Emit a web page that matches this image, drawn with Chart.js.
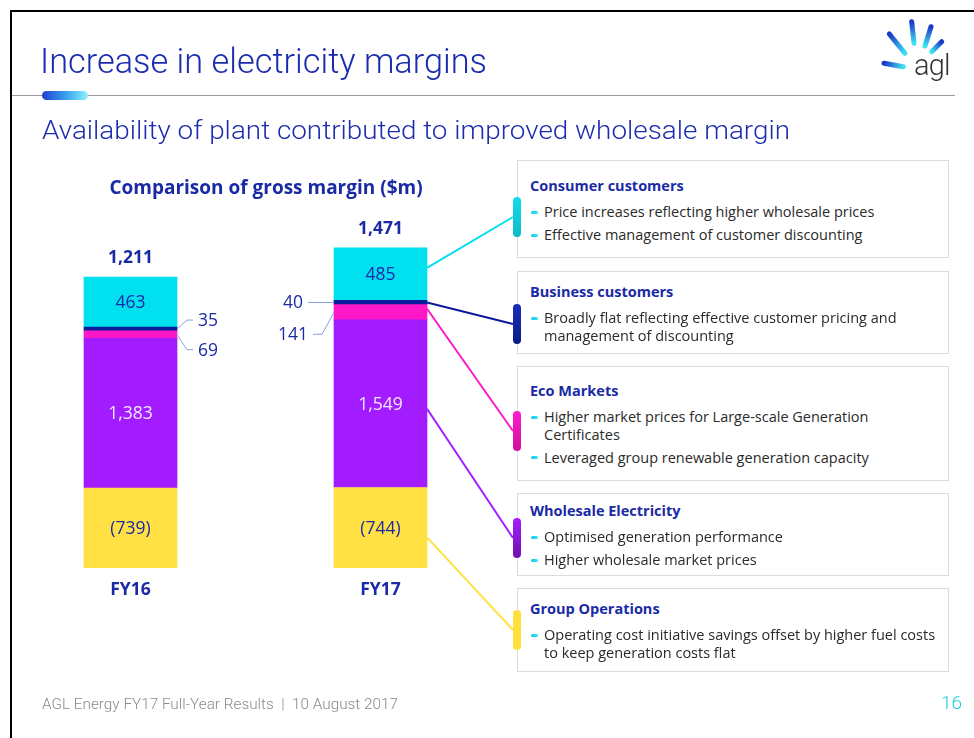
<!DOCTYPE html>
<html>
<head>
<meta charset="utf-8">
<script src="https://cdn.jsdelivr.net/npm/chart.js@4/dist/chart.umd.min.js"></script>
<style>
  html, body { margin: 0; padding: 0; background: #fff; }
  #slide { position: relative; width: 974px; height: 738px; overflow: hidden; background: #fff; font-family: "Open Sans", sans-serif; }
  #frame { position: absolute; left: 10px; top: 10px; width: 1000px; height: 800px; border-top: 2.5px solid #000; border-left: 2.5px solid #000; box-sizing: border-box; }
  #chartWrap { position: absolute; left: 0; top: 0; width: 974px; height: 738px; }
  .fit { position: absolute; white-space: nowrap; transform-origin: 0 0; }
  #title { left: 40px; top: 42px; font-family: Roboto, sans-serif; font-weight: 300; font-size: 35px; line-height: 40px; color: #1b2cae; }
  #subtitle { left: 42px; top: 116px; font-family: Roboto, sans-serif; font-weight: 300; font-size: 25px; line-height: 30px; color: #1b2cae; }
  #rule { position: absolute; left: 12px; top: 95px; width: 943px; height: 1px; background: #9a9a9a; }
  #pill { position: absolute; left: 42px; top: 91px; width: 46px; height: 9px; border-radius: 5px; background: linear-gradient(90deg, #1f3fd0, #3aa8ee 55%, #8ef2ff); }
  #ctitle { position: absolute; left: 0; width: 532px; top: 174px; text-align: center; font-weight: 700; font-size: 19px; line-height: 26px; color: #1a2aa6; }
  .box { position: absolute; left: 517px; width: 432px; border: 1px solid #dcdcdc; box-sizing: border-box; background: #fff; padding-left: 12px; padding-right: 6px; }
  .box h4 { margin: 0; font-size: 14.5px; line-height: 18px; font-weight: 700; color: #1a2aa6; }
  .box ul { list-style: none; margin: 8px 0 0 0; padding: 0; }
  .box li { position: relative; padding-left: 14px; font-size: 14.5px; line-height: 17.5px; color: #2a2a2a; margin-bottom: 5.5px; white-space: nowrap; }
  .box li::before { content: ""; position: absolute; left: 1px; top: 7.5px; width: 7px; height: 3px; border-radius: 1.5px; background: linear-gradient(90deg, #19c2ef, #35e6f6); }
  .tab { position: absolute; left: 513px; width: 8px; height: 40px; border-radius: 4px; }
  #footer { left: 42px; top: 695px; font-family: Roboto, sans-serif; font-weight: 300; font-size: 14px; line-height: 18px; color: #8a8a8a; }
  #pageno { position: absolute; left: 941px; top: 692px; font-family: Roboto, sans-serif; font-weight: 300; font-size: 19px; line-height: 22px; color: #1ccfe6; }
  #logo { position: absolute; left: 876px; top: 16px; width: 90px; height: 76px; }
</style>
</head>
<body>
<div id="slide">
  <div id="chartWrap"><canvas id="c" width="974" height="738"></canvas></div>
  <div id="frame"></div>
  <div id="title" class="fit" data-w="447">Increase in electricity margins</div>
  <div id="rule"></div>
  <div id="pill"></div>
  <div id="subtitle" class="fit" data-w="748">Availability of plant contributed to improved wholesale margin</div>
  <div id="ctitle">Comparison of gross margin ($m)</div>

  <div class="box" style="top:160px;height:98px;padding-top:16px;">
    <h4>Consumer customers</h4>
    <ul><li>Price increases reflecting higher wholesale prices</li><li>Effective management of customer discounting</li></ul>
  </div>
  <div class="box" style="top:271px;height:83px;padding-top:11px;">
    <h4>Business customers</h4>
    <ul><li>Broadly flat reflecting effective customer pricing and<br>management of discounting</li></ul>
  </div>
  <div class="box" style="top:366px;height:115px;padding-top:15px;">
    <h4>Eco Markets</h4>
    <ul><li>Higher market prices for Large-scale Generation<br>Certificates</li><li>Leveraged group renewable generation capacity</li></ul>
  </div>
  <div class="box" style="top:493px;height:83px;padding-top:8px;">
    <h4>Wholesale Electricity</h4>
    <ul><li>Optimised generation performance</li><li>Higher wholesale market prices</li></ul>
  </div>
  <div class="box" style="top:588px;height:84px;padding-top:11px;">
    <h4>Group Operations</h4>
    <ul><li>Operating cost initiative savings offset by higher fuel costs<br>to keep generation costs flat</li></ul>
  </div>

  <div class="tab" style="top:197px;background:linear-gradient(180deg,#10dcea,#0fb9c9);"></div>
  <div class="tab" style="top:304px;background:linear-gradient(180deg,#1a2fb8,#0b1a86);"></div>
  <div class="tab" style="top:411px;background:linear-gradient(180deg,#ff1ccc,#cf0f9c);"></div>
  <div class="tab" style="top:518px;background:linear-gradient(180deg,#a51cff,#6e10ae);"></div>
  <div class="tab" style="top:610px;background:#ffe13e;"></div>

  <div id="footer" class="fit" data-w="356">AGL Energy FY17 Full-Year Results&nbsp;&nbsp;|&nbsp;&nbsp;10 August 2017</div>
  <div id="pageno">16</div>

  <svg id="logo" viewBox="0 0 90 76" xmlns="http://www.w3.org/2000/svg">
    <defs>
      <linearGradient id="r1" x1="13.3" y1="18" x2="29" y2="37.3" gradientUnits="userSpaceOnUse"><stop offset="0" stop-color="#1a35c8"/><stop offset="1" stop-color="#3fe3f3"/></linearGradient>
      <linearGradient id="r2" x1="35.7" y1="5.7" x2="38" y2="27.3" gradientUnits="userSpaceOnUse"><stop offset="0" stop-color="#1a35c8"/><stop offset="1" stop-color="#3fe3f3"/></linearGradient>
      <linearGradient id="r3" x1="55" y1="10.7" x2="49" y2="30" gradientUnits="userSpaceOnUse"><stop offset="0" stop-color="#1a35c8"/><stop offset="1" stop-color="#3fe3f3"/></linearGradient>
      <linearGradient id="r4" x1="65.7" y1="25.7" x2="55.7" y2="35.7" gradientUnits="userSpaceOnUse"><stop offset="0" stop-color="#1a35c8"/><stop offset="1" stop-color="#3fe3f3"/></linearGradient>
      <linearGradient id="r5" x1="8" y1="47.3" x2="27.3" y2="50.7" gradientUnits="userSpaceOnUse"><stop offset="0" stop-color="#1a35c8"/><stop offset="1" stop-color="#3fe3f3"/></linearGradient>
    </defs>
    <g stroke-width="5" stroke-linecap="round" fill="none">
      <line x1="13.3" y1="18" x2="29" y2="37.3" stroke="url(#r1)"/>
      <line x1="35.7" y1="5.7" x2="38" y2="27.3" stroke="url(#r2)"/>
      <line x1="55" y1="10.7" x2="49" y2="30" stroke="url(#r3)"/>
      <line x1="65.7" y1="25.7" x2="55.7" y2="35.7" stroke="url(#r4)"/>
      <line x1="8" y1="47.3" x2="27.3" y2="50.7" stroke="url(#r5)"/>
    </g>
    <text x="38" y="59" font-family="Roboto, sans-serif" font-weight="300" font-size="29" fill="#333" letter-spacing="-0.8">agl</text>
  </svg>
</div>

<script>
// ---------- DATA ----------
const categories = ["FY16", "FY17"];
const groupOperations = [-739, -744];
const wholesaleElectricity = [1383, 1549];
const ecoMarkets = [69, 141];
const businessCustomers = [35, 40];
const consumerCustomers = [463, 485];
const seriesNames = ["Group Operations", "Wholesale Electricity", "Eco Markets", "Business customers", "Consumer customers"];

// ---------- STYLE / LAYOUT ----------
const seriesColors = ["#ffe143", "#a21cff", "#ff17c8", "#0b1d9c", "#00e0ef"];
const insideLabelColors = ["#1a2aa6", "#f3e8ff", null, null, "#1a2aa6"];
const TEXT_BLUE = "#1a2aa6";
const CALLOUT_LINE = "#8d9eea";
// callouts for thin segments: [datasetIndex][barIndex]
const callouts = {
  2: { 0: { side: "right", dy: 15, elbow: 10, reach: 16 }, 1: { side: "left", dy: 22, elbow: 12, reach: 21 } },
  3: { 0: { side: "right", dy: -9, elbow: 10, reach: 16 }, 1: { side: "left", dy: 0, elbow: 12, reach: 26 } }
};
// leader line targets (left edge of coloured tab on each box), from FY17 bar
const leaderTargets = [[513, 630], [513, 538], [513, 431], [513, 324], [513, 217]];
const leaderAnchor = [0.62, 0.53, 0.27, 0.5, 0.38];

const fmt = v => {
  const s = Math.abs(v).toLocaleString("en-US");
  return v < 0 ? "(" + s + ")" : s;
};

const signedSeries = [groupOperations, wholesaleElectricity, ecoMarkets, businessCustomers, consumerCustomers];
const totals = categories.map((_, i) => signedSeries.reduce((a, s) => a + s[i], 0));

const datasets = signedSeries.map((s, k) => ({
  label: seriesNames[k],
  data: s.map(v => Math.abs(v)),
  signed: s,
  backgroundColor: seriesColors[k],
  borderWidth: 0,
  barThickness: 93,
  stack: "gm"
}));

const annotate = {
  id: "annotate",
  afterDatasetsDraw(chart) {
    const ctx = chart.ctx;
    ctx.save();
    ctx.textAlign = "center";
    ctx.textBaseline = "middle";
    const nSets = chart.data.datasets.length;

    chart.data.datasets.forEach((ds, k) => {
      const meta = chart.getDatasetMeta(k);
      meta.data.forEach((el, i) => {
        const yc = (el.y + el.base) / 2;
        const txt = fmt(ds.signed[i]);
        if (insideLabelColors[k]) {
          ctx.font = "17.5px 'Open Sans'";
          ctx.fillStyle = insideLabelColors[k];
          ctx.textAlign = "center";
          ctx.fillText(txt, el.x, yc + 1);
        } else if (callouts[k] && callouts[k][i]) {
          const c = callouts[k][i];
          const dir = c.side === "right" ? 1 : -1;
          const ex = el.x + dir * el.width / 2;
          ctx.strokeStyle = CALLOUT_LINE;
          ctx.lineWidth = 1;
          ctx.beginPath();
          ctx.moveTo(ex, yc);
          ctx.lineTo(ex + dir * c.elbow, yc + c.dy);
          ctx.lineTo(ex + dir * c.reach, yc + c.dy);
          ctx.stroke();
          ctx.font = "17.5px 'Open Sans'";
          ctx.fillStyle = TEXT_BLUE;
          ctx.textAlign = c.side === "right" ? "left" : "right";
          ctx.fillText(txt, ex + dir * (c.reach + 5), yc + c.dy + 1);
        }
      });
    });

    const topMeta = chart.getDatasetMeta(nSets - 1);
    const xs = chart.scales.x, ys = chart.scales.y;
    ctx.textAlign = "center";
    topMeta.data.forEach((el, i) => {
      ctx.font = "bold 17.5px 'Open Sans'";
      ctx.fillStyle = TEXT_BLUE;
      ctx.fillText(fmt(totals[i]), el.x, el.y - 19);
      ctx.font = "bold 17.5px 'Open Sans'";
      ctx.fillText(chart.data.labels[i], xs.getPixelForValue(i), ys.getPixelForValue(0) + 22);
    });

    const last = chart.data.labels.length - 1;
    chart.data.datasets.forEach((ds, k) => {
      const el = chart.getDatasetMeta(k).data[last];
      const top = Math.min(el.y, el.base), bot = Math.max(el.y, el.base);
      const y0 = top + (bot - top) * leaderAnchor[k];
      ctx.strokeStyle = seriesColors[k];
      ctx.lineWidth = 2;
      ctx.beginPath();
      ctx.moveTo(el.x + el.width / 2, y0);
      ctx.lineTo(leaderTargets[k][0], leaderTargets[k][1]);
      ctx.stroke();
    });
    ctx.restore();
  }
};

new Chart(document.getElementById("c"), {
  type: "bar",
  data: { labels: categories, datasets },
  options: {
    responsive: false,
    devicePixelRatio: 1,
    animation: false,
    layout: { padding: { left: 5.5, right: 468.5, top: 243.4, bottom: 170 } },
    plugins: { legend: { display: false }, tooltip: { enabled: false } },
    scales: {
      x: { display: false, stacked: true },
      y: { display: false, stacked: true, min: 0, max: 3000 }
    }
  },
  plugins: [annotate]
});

document.querySelectorAll(".fit").forEach(el => {
  const w = el.getBoundingClientRect().width;
  const target = parseFloat(el.dataset.w);
  el.style.transform = "scaleX(" + (target / w) + ")";
});
</script>
</body>
</html>
